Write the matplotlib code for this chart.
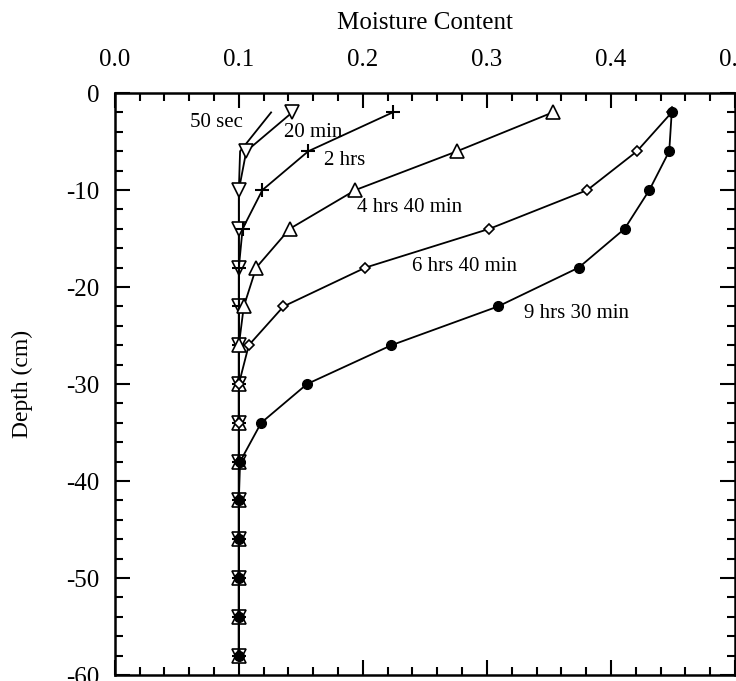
import numpy as np
import matplotlib.pyplot as plt
from matplotlib.ticker import MultipleLocator

plt.rcParams['font.family'] = ['Liberation Serif', 'DejaVu Serif']
plt.rcParams['axes.unicode_minus'] = False

# depth of each sample (cm)
depth = [-2, -6, -10, -14, -18, -22, -26, -30, -34, -38, -42, -46, -50, -54, -58]

# moisture content
m_50sec = [0.126, 0.101, 0.100, 0.100, 0.100, 0.100, 0.100, 0.100, 0.100, 0.100, 0.100, 0.100, 0.100, 0.100, 0.100]
m_20min = [0.143, 0.106, 0.100, 0.100, 0.100, 0.100, 0.100, 0.100, 0.100, 0.100, 0.100, 0.100, 0.100, 0.100, 0.100]
m_2hrs = [0.224, 0.156, 0.119, 0.103, 0.100, 0.100, 0.100, 0.100, 0.100, 0.100, 0.100, 0.100, 0.100, 0.100, 0.100]
m_4hrs40 = [0.353, 0.276, 0.194, 0.141, 0.114, 0.104, 0.100, 0.100, 0.100, 0.100, 0.100, 0.100, 0.100, 0.100, 0.100]
m_6hrs40 = [0.449, 0.421, 0.381, 0.302, 0.202, 0.136, 0.108, 0.100, 0.100, 0.100, 0.100, 0.100, 0.100, 0.100, 0.100]
m_9hrs30 = [0.449, 0.447, 0.431, 0.411, 0.374, 0.309, 0.223, 0.155, 0.118, 0.101, 0.100, 0.100, 0.100, 0.100, 0.100]

labels = ["50 sec", "20 min", "2 hrs", "4 hrs 40 min", "6 hrs 40 min", "9 hrs 30 min"]
label_x = [0.082, 0.160, 0.185, 0.238, 0.282, 0.372]
label_y = [-3.0, -4.1, -7.0, -11.8, -17.9, -22.7]

fig = plt.figure(figsize=(7.36, 6.81), dpi=100)
ax = fig.add_axes([0.156, 0.0088, 0.8426, 0.8546])

lw = 1.3
ax.plot(m_50sec, depth, color="black", lw=lw)
ax.plot(m_20min, depth, color="black", lw=lw, marker="v", ms=10, mfc="white", mec="black", mew=1.2)
ax.plot(m_2hrs, depth, color="black", lw=lw, marker="+", ms=10, mew=1.5)
ax.plot(m_4hrs40, depth, color="black", lw=lw, marker="^", ms=10, mfc="white", mec="black", mew=1.2)
ax.plot(m_6hrs40, depth, color="black", lw=lw, marker="D", ms=5, mfc="white", mec="black", mew=1.2)
ax.plot(m_9hrs30, depth, color="black", lw=lw, marker="o", ms=7, mfc="black", mec="black")

for txt, x, y in zip(labels, label_x, label_y):
    ax.text(x, y, txt, fontsize=15, ha="center", va="center")

ax.set_xlim(0.0, 0.5)
ax.set_ylim(-60, 0)
ax.xaxis.set_major_locator(MultipleLocator(0.1))
ax.xaxis.set_minor_locator(MultipleLocator(0.02))
ax.yaxis.set_major_locator(MultipleLocator(10))
ax.yaxis.set_minor_locator(MultipleLocator(2))
ax.xaxis.set_major_formatter(plt.FuncFormatter(lambda v, p: "%.1f" % v))

ax.tick_params(which="both", direction="in", top=True, bottom=True, left=True, right=True,
               labeltop=True, labelbottom=False, width=1.5)
ax.tick_params(which="major", length=11, labelsize=18)
ax.tick_params(which="minor", length=6)
ax.tick_params(axis="x", which="major", pad=16)
ax.tick_params(axis="y", which="major", pad=11)

for s in ax.spines.values():
    s.set_linewidth(1.8)

ax.xaxis.set_label_position("top")
ax.set_xlabel("Moisture Content", fontsize=18, labelpad=14)
ax.set_ylabel("Depth (cm)", fontsize=17, labelpad=24)

fig.savefig("out.png", dpi=100)
